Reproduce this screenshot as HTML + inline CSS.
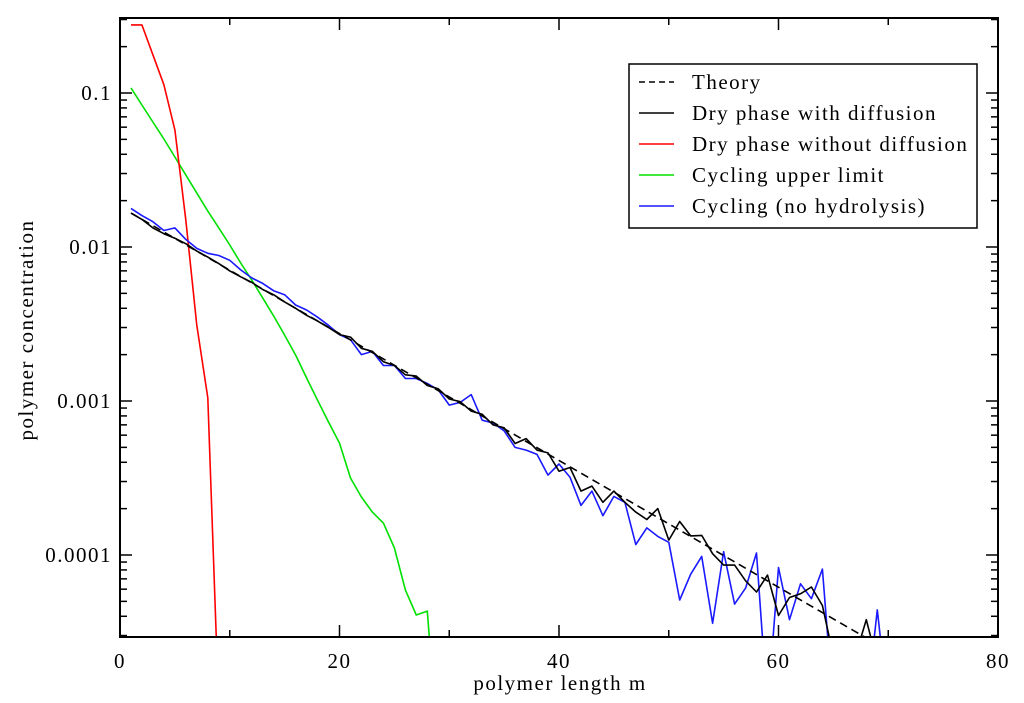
<!DOCTYPE html>
<html><head><meta charset="utf-8"><style>
html,body{margin:0;padding:0;background:#fff;width:1024px;height:703px;overflow:hidden}
svg{display:block;font-family:"Liberation Serif",serif}
text{letter-spacing:1.5px}
</style></head><body>
<svg id="chart" width="1024" height="703"></svg>
<script>
const xTicks=[0,20,40,60,80];
const yTicks=[0.1,0.01,0.001,0.0001];
const yTickLabels=["0.1","0.01","0.001","0.0001"];
const theoryM=[1,70];
const theoryC=[0.0166,0.0000239];
const blackC=[0.0166,0.0151,0.0133,0.0122,0.0114,0.0105,0.0094,0.0086,0.0078,0.0070,0.0064,0.0059,0.0053,0.0049,0.0044,0.0040,0.0036,0.0033,0.0030,0.0027,0.0026,0.0022,0.0021,0.0018,0.0017,0.00148,0.00145,0.00126,0.00120,0.00103,0.00099,0.00086,0.00082,0.00070,0.00067,0.00053,0.00057,0.00048,0.00046,0.00035,0.00037,0.00026,0.00028,0.00022,0.00026,0.00022,0.00019,0.00017,0.00020,0.000125,0.000165,0.000133,0.000134,0.000102,0.000086,0.000086,0.000068,0.0000575,0.000074,0.0000405,0.000053,0.000056,0.000062,0.000047,0.000022,0.000018,0.000022,0.000038,0.00002,0.000015];
const blueC=[0.0178,0.0160,0.0146,0.0128,0.0133,0.0112,0.0098,0.0091,0.0088,0.0082,0.0071,0.0063,0.0058,0.0052,0.0049,0.0042,0.0039,0.0035,0.0031,0.0027,0.0025,0.0020,0.0021,0.0017,0.0017,0.0014,0.0014,0.0013,0.00118,0.00094,0.00098,0.0011,0.00075,0.00072,0.00064,0.00050,0.00048,0.00045,0.00033,0.00039,0.00032,0.00021,0.00026,0.00018,0.00024,0.00022,0.000117,0.00015,0.000132,0.000121,0.000051,0.000075,0.000098,0.000036,0.000105,0.000048,0.000061,0.000103,0.00001,0.000083,0.000038,0.000065,0.000052,0.000081,0.00001,0.00001,0.00001,0.00001,0.000044,0.00001];
const redC=[0.277,0.277,0.177,0.113,0.0575,0.0150,0.0031,0.00105,0.00001];
const greenC=[0.108,0.0836,0.0648,0.0503,0.0384,0.0294,0.0224,0.0171,0.0133,0.0103,0.00787,0.00611,0.00467,0.00357,0.00268,0.00199,0.00141,0.00101,0.00073,0.000533,0.000316,0.000238,0.00019,0.000161,0.000111,0.0000592,0.0000408,0.0000432,0.000005];

const L=120,R=998,T=18,B=637;
const X=m=>L+(m-0)*(R-L)/80;
const Y=v=>93+(-1-Math.log10(v))*154;
const NS="http://www.w3.org/2000/svg";
const svg=document.getElementById('chart');
function mk(t,a,p){const e=document.createElementNS(NS,t);for(const k in a)e.setAttribute(k,a[k]);(p||svg).appendChild(e);return e;}
const defs=mk('defs',{});const cp=mk('clipPath',{id:'clip'},defs);mk('rect',{x:L,y:T,width:R-L,height:B-T},cp);
const plot=mk('g',{'clip-path':'url(#clip)'});


function series(ms,vals,color,name,dash){
  const pts=vals.map((v,i)=>X(ms?ms[i]:i+1).toFixed(1)+','+Y(v).toFixed(1)).join(' ');
  const a={points:pts,fill:'none',stroke:color,'stroke-width':1.6,'stroke-linejoin':'round'};
  if(dash)a['stroke-dasharray']=dash;
  const p=mk('polyline',a,plot);
  
  
}
series(null,greenC,'#00e000','series-cycling-upper-limit');
series(null,redC,'#ff0000','series-dry-without-diffusion');
series(null,blueC,'#1a1aff','series-cycling-no-hydrolysis');
series(null,blackC,'#000','series-dry-with-diffusion');
series(theoryM,theoryC,'#000','series-theory','8,5');
const frame=mk('rect',{x:L,y:T,width:R-L,height:B-T,fill:'none',stroke:'#000','stroke-width':2});


for(let m=0;m<=80;m+=10){const maj=m%20===0;const len=maj?12:7;
  mk('line',{x1:X(m),x2:X(m),y1:B,y2:B-len,stroke:'#000','stroke-width':1.5});
  mk('line',{x1:X(m),x2:X(m),y1:T,y2:T+len,stroke:'#000','stroke-width':1.5});}
xTicks.forEach(t=>{const e=mk('text',{x:X(t),y:B+31,'text-anchor':'middle','font-size':21});e.textContent=t;
  
  });
for(let d=-5;d<=0;d++){for(let k=1;k<=9;k++){const v=k*Math.pow(10,d);const y=Y(v);if(y<T||y>B)continue;const len=k===1?12:7;
  mk('line',{x1:L,x2:L+len,y1:y,y2:y,stroke:'#000','stroke-width':1.5});
  mk('line',{x1:R,x2:R-len,y1:y,y2:y,stroke:'#000','stroke-width':1.5});}}
yTicks.forEach((t,i)=>{const e=mk('text',{x:L-8,y:Y(t)+7,'text-anchor':'end','font-size':21});e.textContent=yTickLabels[i];
  
  });
const xt=mk('text',{x:560,y:690,'text-anchor':'middle','font-size':21});xt.textContent='polymer length m';


const yt=mk('text',{x:0,y:0,'text-anchor':'middle','font-size':21,transform:'translate(33,330) rotate(-90)'});yt.textContent='polymer concentration';


const lg=mk('g',{});


mk('rect',{x:629,y:64,width:348,height:164,fill:'#fff',stroke:'#000','stroke-width':1.5},lg);
const items=[['Theory','#000','6,4'],['Dry phase with diffusion','#000',null],['Dry phase without diffusion','#ff0000',null],['Cycling upper limit','#00e000',null],['Cycling (no hydrolysis)','#1a1aff',null]];
items.forEach((it,i)=>{const y=82+i*31;const g=mk('g',{},lg);
  
  
  const a={x1:639,x2:674,y1:y,y2:y,stroke:it[1],'stroke-width':1.6};if(it[2])a['stroke-dasharray']=it[2];mk('line',a,g);
  const t=mk('text',{x:692,y:y+7,'font-size':21},g);t.textContent=it[0];});
</script>
</body></html>
